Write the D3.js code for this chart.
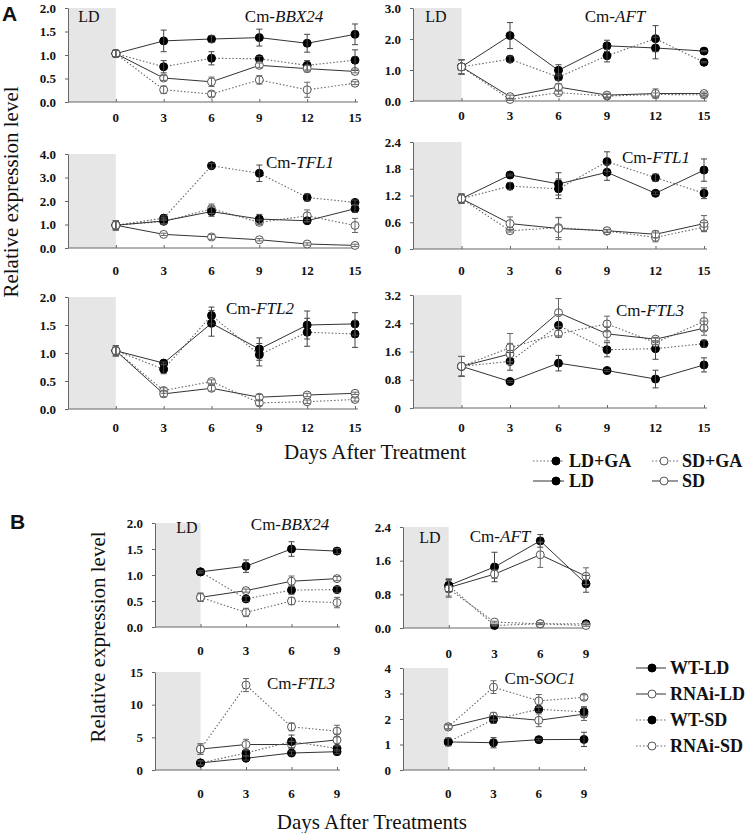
<!DOCTYPE html>
<html><head><meta charset="utf-8">
<script src="https://cdn.jsdelivr.net/npm/d3@7"></script>
<style>
body{margin:0;background:#fff}
svg{display:block}
text{font-family:"Liberation Serif","Times New Roman",serif;fill:#111}
</style>
</head><body>
<svg id="c" width="749" height="833"></svg>
<script>
// ---------- DATA ----------
const daysA = [0, 3, 6, 9, 12, 15];
const daysB = [0, 3, 6, 9];
const seriesA = ["LD+GA", "SD+GA", "LD", "SD"];
const seriesB = ["WT-LD", "RNAi-LD", "WT-SD", "RNAi-SD"];

// A: Cm-BBX24
const bbx24A_LD      = [1.03, 1.30, 1.34, 1.37, 1.25, 1.44];
const bbx24A_LD_se   = [0.07, 0.23, 0.07, 0.18, 0.19, 0.22];
const bbx24A_LDGA    = [1.03, 0.75, 0.93, 0.92, 0.78, 0.89];
const bbx24A_LDGA_se = [0.07, 0.13, 0.14, 0.05, 0.10, 0.22];
const bbx24A_SD      = [1.03, 0.51, 0.43, 0.78, 0.71, 0.65];
const bbx24A_SD_se   = [0.07, 0.05, 0.10, 0.05, 0.07, 0.03];
const bbx24A_SDGA    = [1.03, 0.26, 0.17, 0.47, 0.26, 0.40];
const bbx24A_SDGA_se = [0.07, 0.08, 0.06, 0.09, 0.16, 0.03];
// A: Cm-AFT
const aftA_LD      = [1.10, 2.11, 0.99, 1.78, 1.71, 1.61];
const aftA_LD_se   = [0.23, 0.42, 0.18, 0.18, 0.35, 0.02];
const aftA_LDGA    = [1.10, 1.35, 0.77, 1.46, 2.01, 1.25];
const aftA_LDGA_se = [0.23, 0.10, 0.10, 0.20, 0.42, 0.02];
const aftA_SD      = [1.10, 0.14, 0.45, 0.19, 0.24, 0.24];
const aftA_SD_se   = [0.23, 0.05, 0.10, 0.06, 0.15, 0.05];
const aftA_SDGA    = [1.10, 0.05, 0.27, 0.16, 0.21, 0.20];
const aftA_SDGA_se = [0.23, 0.03, 0.05, 0.05, 0.05, 0.04];
// A: Cm-TFL1
const tfl1A_LD      = [0.97, 1.15, 1.55, 1.23, 1.16, 1.67];
const tfl1A_LD_se   = [0.20, 0.15, 0.20, 0.20, 0.05, 0.15];
const tfl1A_LDGA    = [0.97, 1.27, 3.50, 3.18, 2.15, 1.94];
const tfl1A_LDGA_se = [0.20, 0.10, 0.10, 0.35, 0.15, 0.10];
const tfl1A_SD      = [0.97, 0.58, 0.47, 0.35, 0.17, 0.11];
const tfl1A_SD_se   = [0.20, 0.05, 0.10, 0.05, 0.05, 0.05];
const tfl1A_SDGA    = [0.97, 1.13, 1.67, 1.09, 1.37, 0.96];
const tfl1A_SDGA_se = [0.20, 0.10, 0.20, 0.10, 0.25, 0.30];
// A: Cm-FTL1
const ftl1A_LD      = [1.13, 1.66, 1.46, 1.72, 1.25, 1.77];
const ftl1A_LD_se   = [0.10, 0.02, 0.25, 0.18, 0.03, 0.25];
const ftl1A_LDGA    = [1.13, 1.41, 1.35, 1.96, 1.60, 1.25];
const ftl1A_LDGA_se = [0.10, 0.08, 0.22, 0.22, 0.08, 0.12];
const ftl1A_SD      = [1.13, 0.57, 0.46, 0.41, 0.33, 0.57];
const ftl1A_SD_se   = [0.10, 0.15, 0.25, 0.03, 0.08, 0.18];
const ftl1A_SDGA    = [1.13, 0.41, 0.48, 0.40, 0.26, 0.49];
const ftl1A_SDGA_se = [0.10, 0.03, 0.22, 0.03, 0.10, 0.10];
// A: Cm-FTL2
const ftl2A_LD      = [1.04, 0.82, 1.53, 1.07, 1.50, 1.52];
const ftl2A_LD_se   = [0.09, 0.02, 0.23, 0.20, 0.25, 0.20];
const ftl2A_LDGA    = [1.04, 0.71, 1.67, 0.97, 1.37, 1.34];
const ftl2A_LDGA_se = [0.09, 0.08, 0.15, 0.20, 0.25, 0.24];
const ftl2A_SD      = [1.04, 0.27, 0.37, 0.21, 0.25, 0.28];
const ftl2A_SD_se   = [0.09, 0.05, 0.05, 0.05, 0.03, 0.02];
const ftl2A_SDGA    = [1.04, 0.33, 0.49, 0.11, 0.13, 0.17];
const ftl2A_SDGA_se = [0.09, 0.05, 0.03, 0.05, 0.03, 0.03];
// A: Cm-FTL3
const ftl3A_LD      = [1.18, 0.75, 1.27, 1.06, 0.82, 1.22];
const ftl3A_LD_se   = [0.28, 0.03, 0.22, 0.03, 0.25, 0.20];
const ftl3A_LDGA    = [1.18, 1.32, 2.34, 1.65, 1.68, 1.82];
const ftl3A_LDGA_se = [0.28, 0.25, 0.30, 0.20, 0.30, 0.10];
const ftl3A_SD      = [1.18, 1.53, 2.70, 2.10, 1.95, 2.26];
const ftl3A_SD_se   = [0.28, 0.30, 0.40, 0.20, 0.05, 0.20];
const ftl3A_SDGA    = [1.18, 1.71, 2.10, 2.38, 1.85, 2.45];
const ftl3A_SDGA_se = [0.28, 0.40, 0.10, 0.22, 0.05, 0.25];

// B: Cm-BBX24
const bbx24B_WTLD      = [1.06, 1.17, 1.50, 1.46];
const bbx24B_WTLD_se   = [0.02, 0.12, 0.14, 0.05];
const bbx24B_RNAiLD    = [0.57, 0.70, 0.88, 0.93];
const bbx24B_RNAiLD_se = [0.08, 0.03, 0.10, 0.04];
const bbx24B_WTSD      = [1.06, 0.54, 0.71, 0.72];
const bbx24B_WTSD_se   = [0.02, 0.05, 0.08, 0.06];
const bbx24B_RNAiSD    = [0.57, 0.28, 0.50, 0.47];
const bbx24B_RNAiSD_se = [0.08, 0.08, 0.07, 0.10];
// B: Cm-AFT
const aftB_WTLD      = [1.01, 1.45, 2.07, 1.05];
const aftB_WTLD_se   = [0.15, 0.35, 0.15, 0.20];
const aftB_RNAiLD    = [0.96, 1.28, 1.74, 1.23];
const aftB_RNAiLD_se = [0.20, 0.10, 0.30, 0.20];
const aftB_WTSD      = [1.01, 0.06, 0.10, 0.10];
const aftB_WTSD_se   = [0.15, 0.02, 0.02, 0.02];
const aftB_RNAiSD    = [0.93, 0.14, 0.10, 0.06];
const aftB_RNAiSD_se = [0.20, 0.02, 0.02, 0.02];
// B: Cm-FTL3
const ftl3B_WTLD      = [1.08, 1.8, 2.6, 2.8];
const ftl3B_WTLD_se   = [0.3, 0.3, 0.3, 0.3];
const ftl3B_RNAiLD    = [3.2, 3.9, 3.9, 4.6];
const ftl3B_RNAiLD_se = [0.8, 0.8, 0.5, 0.9];
const ftl3B_WTSD      = [1.08, 2.6, 4.35, 3.3];
const ftl3B_WTSD_se   = [0.3, 0.4, 1.0, 0.4];
const ftl3B_RNAiSD    = [3.2, 13.0, 6.6, 5.95];
const ftl3B_RNAiSD_se = [0.8, 1.0, 0.6, 0.9];
// B: Cm-SOC1
const soc1B_WTLD      = [1.10, 1.07, 1.19, 1.20];
const soc1B_WTLD_se   = [0.15, 0.20, 0.05, 0.28];
const soc1B_RNAiLD    = [1.69, 2.11, 1.95, 2.19];
const soc1B_RNAiLD_se = [0.08, 0.15, 0.25, 0.25];
const soc1B_WTSD      = [1.10, 1.98, 2.38, 2.28];
const soc1B_WTSD_se   = [0.15, 0.15, 0.10, 0.20];
const soc1B_RNAiSD    = [1.69, 3.25, 2.71, 2.85];
const soc1B_RNAiSD_se = [0.08, 0.25, 0.25, 0.10];

// y ticks and labels
const ticks_2 = [0, 0.5, 1, 1.5, 2];      const labels_2 = ["0.0","0.5","1.0","1.5","2.0"];
const ticks_3 = [0, 1, 2, 3];             const labels_3 = ["0.0","1.0","2.0","3.0"];
const ticks_4 = [0, 1, 2, 3, 4];          const labels_4 = ["0.0","1.0","2.0","3.0","4.0"];
const ticks_24 = [0, 0.6, 1.2, 1.8, 2.4]; const labels_24 = ["0","0.6","1.2","1.8","2.4"];
const ticks_32 = [0, 0.8, 1.6, 2.4, 3.2]; const labels_32 = ["0","0.8","1.6","2.4","3.2"];
const ticksB_24 = [0, 0.8, 1.6, 2.4];     const labelsB_24 = ["0.0","0.8","1.6","2.4"];
const ticksB_15 = [0, 5, 10, 15];         const labelsB_15 = ["0","5","10","15"];
const ticksB_4 = [0, 1, 2, 3, 4];         const labelsB_4 = ["0","1","2","3","4"];

// ---------- PANEL TABLE (built from the arrays) ----------
const panels = [
  {key:"A1", gene:"BBX24", days:daysA, names:seriesA, yMax:2, yTicks:ticks_2, yLabels:labels_2, ld:true,
   vals:[bbx24A_LDGA, bbx24A_SDGA, bbx24A_LD, bbx24A_SD], errs:[bbx24A_LDGA_se, bbx24A_SDGA_se, bbx24A_LD_se, bbx24A_SD_se]},
  {key:"A2", gene:"AFT", days:daysA, names:seriesA, yMax:3, yTicks:ticks_3, yLabels:labels_3, ld:true,
   vals:[aftA_LDGA, aftA_SDGA, aftA_LD, aftA_SD], errs:[aftA_LDGA_se, aftA_SDGA_se, aftA_LD_se, aftA_SD_se]},
  {key:"A3", gene:"TFL1", days:daysA, names:seriesA, yMax:4, yTicks:ticks_4, yLabels:labels_4, ld:false,
   vals:[tfl1A_LDGA, tfl1A_SDGA, tfl1A_LD, tfl1A_SD], errs:[tfl1A_LDGA_se, tfl1A_SDGA_se, tfl1A_LD_se, tfl1A_SD_se]},
  {key:"A4", gene:"FTL1", days:daysA, names:seriesA, yMax:2.4, yTicks:ticks_24, yLabels:labels_24, ld:false,
   vals:[ftl1A_LDGA, ftl1A_SDGA, ftl1A_LD, ftl1A_SD], errs:[ftl1A_LDGA_se, ftl1A_SDGA_se, ftl1A_LD_se, ftl1A_SD_se]},
  {key:"A5", gene:"FTL2", days:daysA, names:seriesA, yMax:2, yTicks:ticks_2, yLabels:labels_2, ld:false,
   vals:[ftl2A_LDGA, ftl2A_SDGA, ftl2A_LD, ftl2A_SD], errs:[ftl2A_LDGA_se, ftl2A_SDGA_se, ftl2A_LD_se, ftl2A_SD_se]},
  {key:"A6", gene:"FTL3", days:daysA, names:seriesA, yMax:3.2, yTicks:ticks_32, yLabels:labels_32, ld:false,
   vals:[ftl3A_LDGA, ftl3A_SDGA, ftl3A_LD, ftl3A_SD], errs:[ftl3A_LDGA_se, ftl3A_SDGA_se, ftl3A_LD_se, ftl3A_SD_se]},
  {key:"B1", gene:"BBX24", days:daysB, names:seriesB, yMax:2, yTicks:ticks_2, yLabels:labels_2, ld:true,
   vals:[bbx24B_WTLD, bbx24B_RNAiLD, bbx24B_WTSD, bbx24B_RNAiSD], errs:[bbx24B_WTLD_se, bbx24B_RNAiLD_se, bbx24B_WTSD_se, bbx24B_RNAiSD_se]},
  {key:"B2", gene:"AFT", days:daysB, names:seriesB, yMax:2.4, yTicks:ticksB_24, yLabels:labelsB_24, ld:true,
   vals:[aftB_WTLD, aftB_RNAiLD, aftB_WTSD, aftB_RNAiSD], errs:[aftB_WTLD_se, aftB_RNAiLD_se, aftB_WTSD_se, aftB_RNAiSD_se]},
  {key:"B3", gene:"FTL3", days:daysB, names:seriesB, yMax:15, yTicks:ticksB_15, yLabels:labelsB_15, ld:false,
   vals:[ftl3B_WTLD, ftl3B_RNAiLD, ftl3B_WTSD, ftl3B_RNAiSD], errs:[ftl3B_WTLD_se, ftl3B_RNAiLD_se, ftl3B_WTSD_se, ftl3B_RNAiSD_se]},
  {key:"B4", gene:"SOC1", days:daysB, names:seriesB, yMax:4, yTicks:ticksB_4, yLabels:labelsB_4, ld:false,
   vals:[soc1B_WTLD, soc1B_RNAiLD, soc1B_WTSD, soc1B_RNAiSD], errs:[soc1B_WTLD_se, soc1B_RNAiLD_se, soc1B_WTSD_se, soc1B_RNAiSD_se]}
];

// ---------- LAYOUT & STYLE (kept separate from data) ----------
const layout = {
  A1:{l:68,  r:355, t:8,   b:102, lab:117, tx:284, ty:16,  ldx:89,  ldy:16,  ldc:"#222"},
  A2:{l:413, r:704, t:8,   b:101, lab:115, tx:615, ty:16,  ldx:436, ldy:16,  ldc:"#666"},
  A3:{l:68,  r:355, t:154, b:248, lab:270, tx:300, ty:162},
  A4:{l:413, r:704, t:142, b:249, lab:270, tx:656, ty:157},
  A5:{l:68,  r:355, t:297, b:409, lab:427, tx:260, ty:308},
  A6:{l:413, r:704, t:295, b:408, lab:427, tx:650, ty:310},
  B1:{l:155, r:337, t:523, b:627, lab:650, tx:290, ty:524, ldx:187, ldy:527, ldc:"#222"},
  B2:{l:403, r:586, t:527, b:628, lab:653, tx:500, ty:536, ldx:430, ldy:537, ldc:"#222"},
  B3:{l:155, r:337, t:672, b:770, lab:793, tx:301, ty:683},
  B4:{l:403, r:584, t:668, b:770, lab:793, tx:540, ty:678}
};
const style = {
  "LD":     {dash:false, fill:true},
  "LD+GA":  {dash:true,  fill:true},
  "SD":     {dash:false, fill:false},
  "SD+GA":  {dash:true,  fill:false},
  "WT-LD":  {dash:false, fill:true},
  "RNAi-LD":{dash:false, fill:false},
  "WT-SD":  {dash:true,  fill:true},
  "RNAi-SD":{dash:true,  fill:false}
};
const SERIF = '"Liberation Serif","Times New Roman",serif';
const SANS = '"Liberation Sans",Arial,sans-serif';

const svg = d3.select("#c");
svg.append("rect").attr("width",749).attr("height",833).attr("fill","#fff");

function applyLine(sel, st){
  sel.attr("fill","none")
     .attr("stroke", st.dash ? "#666" : "#333")
     .attr("stroke-width", st.dash ? 1.1 : 1)
     .attr("stroke-dasharray", st.dash ? "1.5,2" : null);
}
function applyMarker(sel, st){
  sel.attr("fill", st.fill ? "#000" : "#fff")
     .attr("stroke", st.fill ? "#000" : "#555")
     .attr("stroke-width", 1);
}

panels.forEach(p => {
  const L = layout[p.key];
  const maxDay = d3.max(p.days);
  const x = d3.scaleLinear().domain([-3, maxDay]).range([L.l, L.r]);
  const y = d3.scaleLinear().domain([0, p.yMax]).range([L.b, L.t]);
  const g = svg.append("g");

  // LD shading
  g.append("rect").attr("x", x(-3)).attr("y", y(p.yMax))
    .attr("width", x(0) - x(-3)).attr("height", y(0) - y(p.yMax))
    .attr("fill", "#e6e6e6");

  // axes
  const xa = g.append("g").attr("transform", `translate(0,${y(0)})`)
    .call(d3.axisBottom(x).tickValues(p.days).tickSize(-3).tickSizeOuter(0).tickFormat(""));
  const ya = g.append("g").attr("transform", `translate(${x(-3)},0)`)
    .call(d3.axisLeft(y).tickValues(p.yTicks).tickSize(3).tickSizeOuter(0).tickPadding(9)
      .tickFormat((d,i) => p.yLabels[i]));
  [xa, ya].forEach(a => {
    a.select(".domain").attr("stroke", "#666");
    a.selectAll(".tick line").attr("stroke", "#666");
  });
  xa.select(".domain").attr("d", `M${x(-3)},0H${x(maxDay)+3}`);
  ya.selectAll(".tick text").style("font-family", SERIF).style("font-size","13px")
    .style("font-weight","bold").attr("fill","#111");

  // x tick labels (shown below the axis)
  g.selectAll(".xl").data(p.days).enter().append("text")
    .attr("x", d => x(d)).attr("y", L.lab).attr("text-anchor","middle")
    .attr("dominant-baseline","central")
    .style("font-size","13px").style("font-weight","bold").text(d => d);

  // title
  const t = g.append("text").attr("x", L.tx).attr("y", L.ty).attr("text-anchor","middle")
    .attr("dominant-baseline","central").style("font-size","17px");
  t.append("tspan").text("Cm-");
  t.append("tspan").style("font-style","italic").text(p.gene);

  if (p.ld) {
    g.append("text").attr("x", L.ldx).attr("y", L.ldy).attr("text-anchor","middle")
      .attr("dominant-baseline","central").style("font-size","16px").attr("fill", L.ldc).text("LD");
  }

  const line = d3.line().x(d => x(d.d)).y(d => y(d.v));
  const sers = p.names.map((n, i) => ({
    name: n, st: style[n],
    pts: p.days.map((d, j) => ({d: d, v: p.vals[i][j], e: p.errs[i][j]}))
  }));
  // lines
  sers.forEach(s => { g.append("path").datum(s.pts).attr("d", line).call(applyLine, s.st); });
  // markers
  sers.forEach(s => {
    g.selectAll(null).data(s.pts).enter().append("circle")
      .attr("cx", d => x(d.d)).attr("cy", d => y(d.v)).attr("r", 4).call(applyMarker, s.st);
  });
  // error bars
  sers.forEach(s => {
    const eb = g.selectAll(null).data(s.pts).enter().append("g")
      .attr("stroke", s.st.fill ? "#444" : "#666").attr("stroke-width",1);
    eb.append("line").attr("x1", d => x(d.d)).attr("x2", d => x(d.d))
      .attr("y1", d => y(d.v - d.e)).attr("y2", d => y(d.v + d.e));
    eb.append("line").attr("x1", d => x(d.d) - 3).attr("x2", d => x(d.d) + 3)
      .attr("y1", d => y(d.v + d.e)).attr("y2", d => y(d.v + d.e));
    eb.append("line").attr("x1", d => x(d.d) - 3).attr("x2", d => x(d.d) + 3)
      .attr("y1", d => y(d.v - d.e)).attr("y2", d => y(d.v - d.e));
  });
});

// panel letters
svg.append("text").attr("x", 2).attr("y", 13).attr("dominant-baseline","central")
  .style("font-family", SANS).style("font-weight","bold").style("font-size","21px").attr("fill","#000").text("A");
svg.append("text").attr("x", 10).attr("y", 521).attr("dominant-baseline","central")
  .style("font-family", SANS).style("font-weight","bold").style("font-size","21px").attr("fill","#000").text("B");

// axis titles
svg.append("text").attr("transform","translate(11,192) rotate(-90)").attr("text-anchor","middle")
  .attr("dominant-baseline","central").style("font-size","21px").text("Relative expression level");
svg.append("text").attr("transform","translate(98,637) rotate(-90)").attr("text-anchor","middle")
  .attr("dominant-baseline","central").style("font-size","21px").text("Relative expression level");
svg.append("text").attr("x", 466).attr("y", 452).attr("text-anchor","end")
  .attr("dominant-baseline","central").style("font-size","21px").text("Days After Treatment");
svg.append("text").attr("x", 467).attr("y", 822).attr("text-anchor","end")
  .attr("dominant-baseline","central").style("font-size","21px").text("Days After Treatments");

// legend A
const legA = [
  {name:"LD+GA", x1:533, x2:564, mx:556, tx:569, y:461},
  {name:"SD+GA", x1:652, x2:678, mx:664, tx:682, y:461},
  {name:"LD",    x1:533, x2:564, mx:556, tx:569, y:481},
  {name:"SD",    x1:652, x2:678, mx:664, tx:682, y:481}
];
// legend B
const legB = seriesB.map((n, i) => ({name:n, x1:636, x2:666, mx:652, tx:670, y:[668,694,720,746][i]}));
[...legA, ...legB].forEach(l => {
  const st = style[l.name];
  svg.append("line").attr("x1", l.x1).attr("x2", l.x2).attr("y1", l.y).attr("y2", l.y).call(applyLine, st);
  svg.append("circle").attr("cx", l.mx).attr("cy", l.y).attr("r", 4).call(applyMarker, st);
  svg.append("text").attr("x", l.tx).attr("y", l.y).attr("dominant-baseline","central")
    .style("font-size","18px").style("font-weight","bold").text(l.name);
});
</script>
</body></html>
